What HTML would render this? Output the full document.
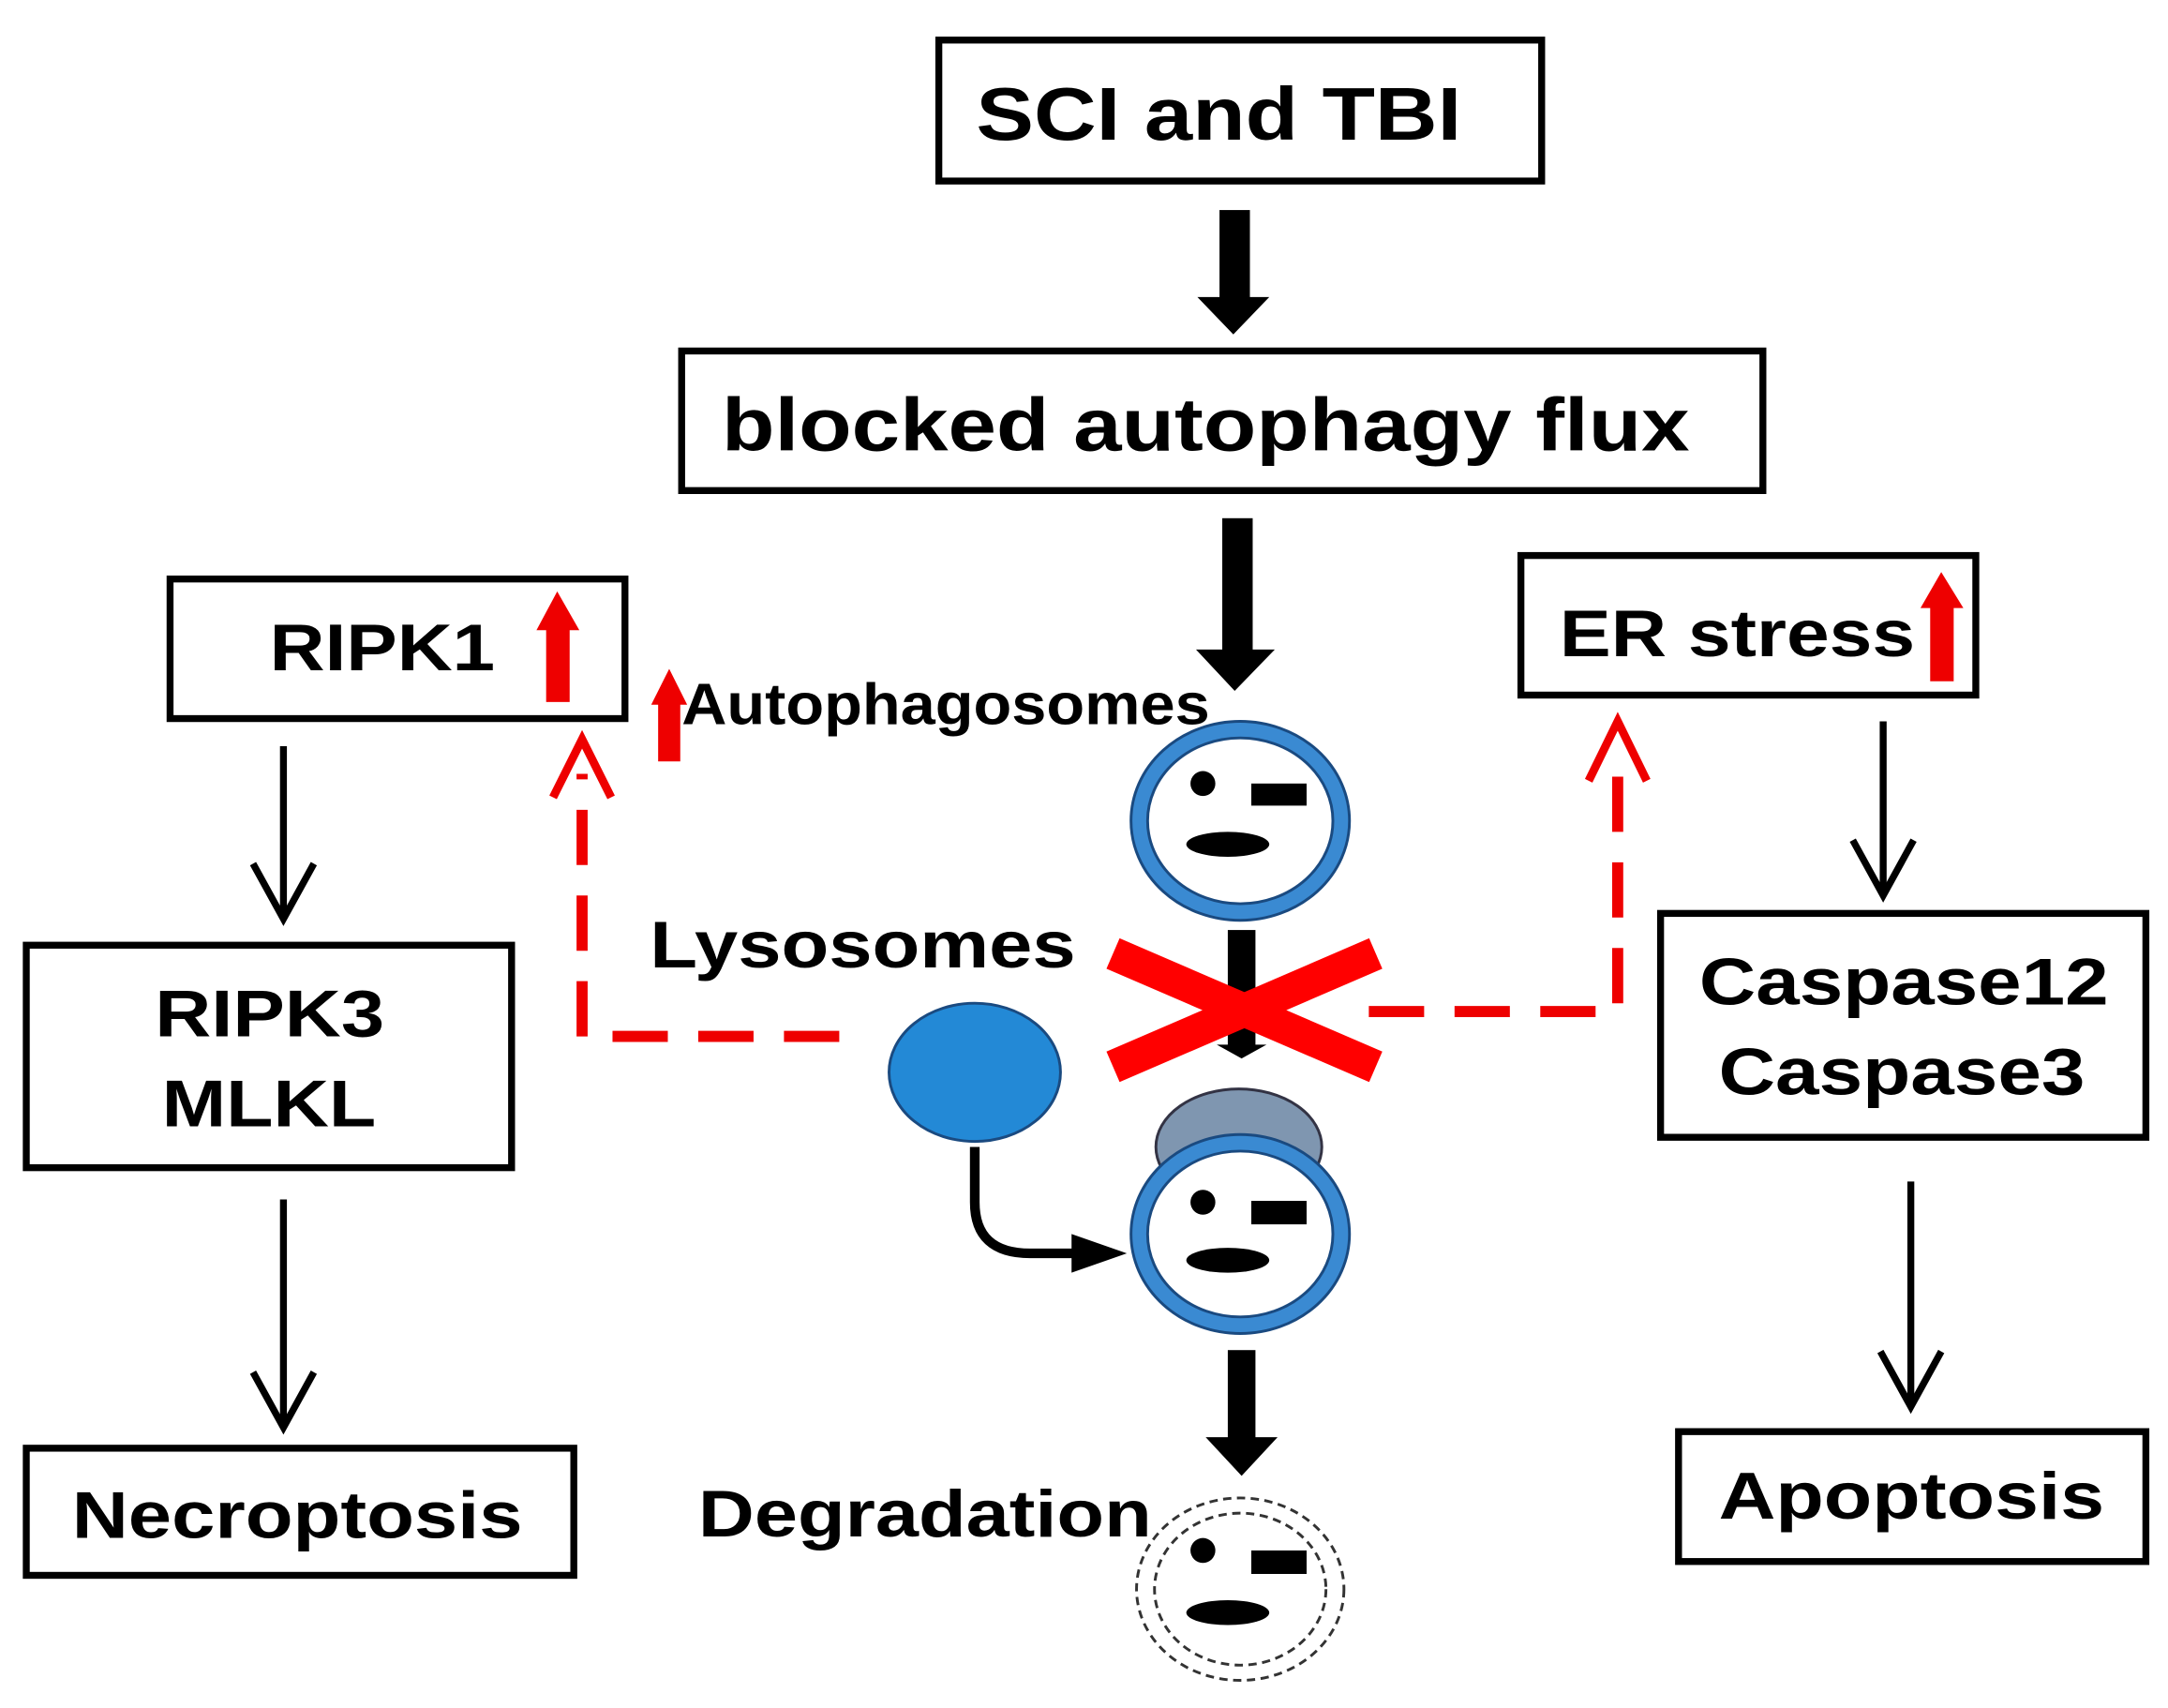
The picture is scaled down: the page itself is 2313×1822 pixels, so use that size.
<!DOCTYPE html>
<html><head><meta charset="utf-8"><style>html,body{margin:0;padding:0;background:#fff}svg{display:block}</style></head>
<body>
<svg width="2313" height="1822" viewBox="0 0 1568 1236" preserveAspectRatio="none" xmlns="http://www.w3.org/2000/svg" font-family="Liberation Sans, Arial, sans-serif" font-weight="bold">
<rect width="1568" height="1236" fill="#fff"/>
<g fill="none" stroke="#000" stroke-width="5">
<rect x="679" y="29" width="436" height="102"/>
<rect x="493" y="254" width="782" height="101"/>
<rect x="123" y="419" width="329" height="101"/>
<rect x="1100" y="402" width="329" height="101"/>
<rect x="19" y="684" width="351" height="161"/>
<rect x="19" y="1048" width="396" height="92"/>
<rect x="1201" y="661" width="351" height="162"/>
<rect x="1214" y="1036" width="338" height="94"/>
</g>
<g fill="#000" lengthAdjust="spacingAndGlyphs">
<text x="706" y="101" font-size="54" textLength="351" lengthAdjust="spacingAndGlyphs">SCI and TBI</text>
<text x="522" y="326" font-size="54" textLength="700" lengthAdjust="spacingAndGlyphs">blocked autophagy flux</text>
<text x="195" y="485" font-size="48" textLength="163" lengthAdjust="spacingAndGlyphs">RIPK1</text>
<text x="1128" y="475" font-size="48" textLength="257" lengthAdjust="spacingAndGlyphs">ER stress</text>
<text x="112" y="750" font-size="48" textLength="166" lengthAdjust="spacingAndGlyphs">RIPK3</text>
<text x="117" y="815" font-size="48" textLength="155" lengthAdjust="spacingAndGlyphs">MLKL</text>
<text x="52" y="1113" font-size="48" textLength="326" lengthAdjust="spacingAndGlyphs">Necroptosis</text>
<text x="1229" y="727" font-size="48" textLength="296" lengthAdjust="spacingAndGlyphs">Caspase12</text>
<text x="1243" y="792" font-size="48" textLength="265" lengthAdjust="spacingAndGlyphs">Caspase3</text>
<text x="1243" y="1099" font-size="48" textLength="279" lengthAdjust="spacingAndGlyphs">Apoptosis</text>
<text x="493" y="524" font-size="42" textLength="382" lengthAdjust="spacingAndGlyphs">Autophagosomes</text>
<text x="470" y="700" font-size="48" textLength="308" lengthAdjust="spacingAndGlyphs">Lysosomes</text>
<text x="505" y="1112" font-size="48" textLength="328" lengthAdjust="spacingAndGlyphs">Degradation</text>
</g>
<g fill="#000">
<rect x="882" y="152" width="22" height="64"/><polygon points="866,215 918,215 892,242"/>
<rect x="884" y="375" width="22" height="96"/><polygon points="865,470 922,470 893,500"/>
<rect x="888" y="673" width="20" height="85"/><polygon points="880,756 916,756 898,766"/>
<rect x="888" y="977" width="20" height="64"/><polygon points="872,1040 924,1040 898,1068"/>
</g>
<g fill="none" stroke="#000" stroke-width="5">
<line x1="205" y1="540" x2="205" y2="665"/><polyline points="183,625 205,665 227,625"/>
<line x1="205" y1="868" x2="205" y2="1033"/><polyline points="183,993 205,1033 227,993"/>
<line x1="1362" y1="522" x2="1362" y2="648"/><polyline points="1340,608 1362,648 1384,608"/>
<line x1="1382" y1="855" x2="1382" y2="1018"/><polyline points="1360,978 1382,1018 1404,978"/>
<path d="M705,830 L705,870 Q705,907 745,907 L780,907" stroke-width="7"/>
</g>
<polygon points="775,893 815,907 775,921" fill="#000"/>
<g fill="#e00">
<rect x="395" y="453" width="17" height="55"/><polygon points="388,456 419,456 403,428"/>
<rect x="1396" y="436" width="17" height="57"/><polygon points="1389,440 1420,440 1404,414"/>
<rect x="476" y="505" width="16" height="46"/><polygon points="471,510 497,510 484,484"/>
</g>
<g fill="none" stroke="#e00" stroke-width="8">
<path d="M607,750 L421,750 L421,560" stroke-dasharray="40,22"/>
<polyline points="400,577 421,535 442,577" stroke-width="6"/>
<path d="M990,732 L1170,732 L1170,548" stroke-dasharray="40,22"/>
<polyline points="1149,565 1170,522 1191,565" stroke-width="6"/>
</g>
<ellipse cx="705" cy="776" rx="62" ry="50" fill="#2389d6" stroke="#1a4a80" stroke-width="2"/>
<ellipse cx="896" cy="830" rx="60" ry="42" fill="#7f96b0" stroke="#334" stroke-width="2"/>
<g>
<ellipse cx="897" cy="594" rx="73" ry="66" fill="#fff" stroke="#1a4a80" stroke-width="14"/>
<ellipse cx="897" cy="594" rx="73" ry="66" fill="none" stroke="#3a8ad2" stroke-width="10"/>
<circle cx="870" cy="567" r="9" fill="#000"/><rect x="905" y="567" width="40" height="16" fill="#000"/><ellipse cx="888" cy="611" rx="30" ry="9" fill="#000"/>
</g>
<g>
<ellipse cx="897" cy="893" rx="73" ry="66" fill="#fff" stroke="#1a4a80" stroke-width="14"/>
<ellipse cx="897" cy="893" rx="73" ry="66" fill="none" stroke="#3a8ad2" stroke-width="10"/>
<circle cx="870" cy="870" r="9" fill="#000"/><rect x="905" y="869" width="40" height="17" fill="#000"/><ellipse cx="888" cy="912" rx="30" ry="9" fill="#000"/>
</g>
<g>
<ellipse cx="897" cy="1150" rx="75" ry="66" fill="#fff" stroke="#333" stroke-width="2" stroke-dasharray="6,4"/>
<ellipse cx="897" cy="1150" rx="62" ry="55" fill="none" stroke="#333" stroke-width="2" stroke-dasharray="6,4"/>
<circle cx="870" cy="1122" r="9" fill="#000"/><rect x="905" y="1122" width="40" height="17" fill="#000"/><ellipse cx="888" cy="1167" rx="30" ry="9" fill="#000"/>
</g>
<g stroke="#f00" stroke-width="24">
<line x1="805" y1="690" x2="995" y2="772"/>
<line x1="805" y1="772" x2="995" y2="690"/>
</g>
</svg>
</body></html>
